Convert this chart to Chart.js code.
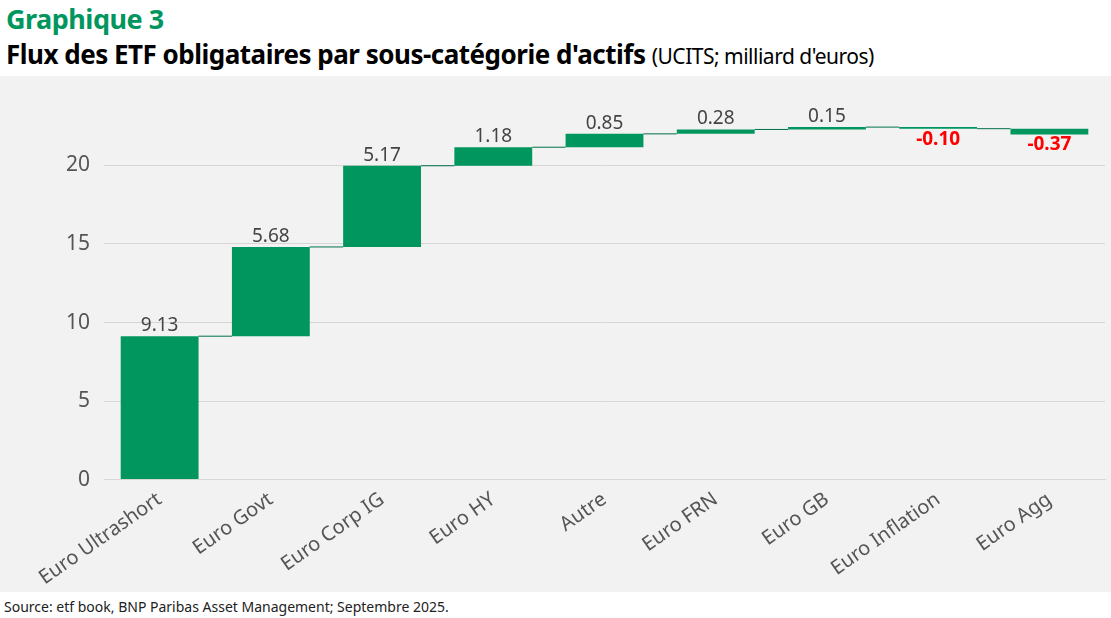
<!DOCTYPE html>
<html><head><meta charset="utf-8">
<script src="https://cdn.jsdelivr.net/npm/chart.js@4"></script>
<style>
body{margin:0;background:#fff;font-family:"Noto Sans",sans-serif;width:1111px;height:618px;overflow:hidden;position:relative}
#t1{position:absolute;left:6px;top:0px;font:bold 27px "Noto Sans";color:#00965e;letter-spacing:-0.5px}
#t2{position:absolute;left:6px;top:36px;font:bold 26px "Noto Sans";color:#000;letter-spacing:-0.5px}
#t2 span{font-weight:normal;font-size:21px}
#box{position:absolute;left:0;top:76px;width:1111px;height:516px;background:#f2f2f2}
#src{position:absolute;left:4px;top:597px;font:14px "Noto Sans";color:#222}
</style></head><body>
<div id="t1">Graphique 3</div>
<div id="t2">Flux des ETF obligataires par sous-catégorie d'actifs <span>(UCITS; milliard d'euros)</span></div>
<div id="box"><canvas id="c" width="1111" height="516"></canvas></div>
<div id="src">Source: etf book, BNP Paribas Asset Management; Septembre 2025.</div>
<script>
const categories = ['Euro Ultrashort','Euro Govt','Euro Corp IG','Euro HY','Autre','Euro FRN','Euro GB','Euro Inflation','Euro Agg'];
const flows = [9.13, 5.68, 5.17, 1.18, 0.85, 0.28, 0.15, -0.10, -0.37];
const yTicks = [0, 5, 10, 15, 20];

let acc = 0;
const ranges = flows.map(v => { const s = acc; acc += v; return [s, acc]; });

const decor = {
  id: 'decor',
  afterDatasetsDraw(chart) {
    const ctx = chart.ctx, meta = chart.getDatasetMeta(0), y = chart.scales.y;
    ctx.save();
    ctx.strokeStyle = '#00704a'; ctx.lineWidth = 1;
    for (let i = 0; i < meta.data.length - 1; i++) {
      const a = meta.data[i], b = meta.data[i + 1];
      const yy = y.getPixelForValue(ranges[i][1]);
      ctx.beginPath(); ctx.moveTo(a.x + a.width / 2, yy); ctx.lineTo(b.x - b.width / 2, yy); ctx.stroke();
    }
    ctx.textAlign = 'center';
    meta.data.forEach((el, i) => {
      const v = flows[i];
      if (v >= 0) {
        ctx.font = '19px "Noto Sans"';
        ctx.fillStyle = '#444'; ctx.textBaseline = 'bottom';
        ctx.fillText(v.toFixed(2), el.x, y.getPixelForValue(ranges[i][1]) - 1);
      } else {
        ctx.font = 'bold 19px "Noto Sans"';
        ctx.fillStyle = '#ff0000'; ctx.textBaseline = 'top';
        ctx.fillText(v.toFixed(2), el.x, y.getPixelForValue(ranges[i][1]) + 1);
      }
    });
    ctx.restore();
  }
};

new Chart(document.getElementById('c'), {
  type: 'bar',
  data: { labels: categories, datasets: [{ data: ranges, backgroundColor: '#00965e', barPercentage: 0.7, categoryPercentage: 1 }] },
  options: {
    responsive: false, animation: false,
    layout: { padding: { left: 52, right: 6, top: 2, bottom: 2 } },
    plugins: { legend: { display: false }, tooltip: { enabled: false } },
    scales: {
      y: { min: 0, max: 24,
           afterBuildTicks: s => { s.ticks = yTicks.map(v => ({ value: v })); },
           ticks: { color: '#555', font: { size: 21, family: 'Noto Sans' }, padding: 14 },
           grid: { color: '#d6d6d6', drawTicks: false }, border: { display: false } },
      x: { ticks: { color: '#555', font: { size: 20, family: 'Noto Sans' }, maxRotation: 35, minRotation: 35, padding: 0 },
           grid: { display: false }, border: { color: '#d6d6d6' } }
    }
  },
  plugins: [decor]
});
</script>
</body></html>
